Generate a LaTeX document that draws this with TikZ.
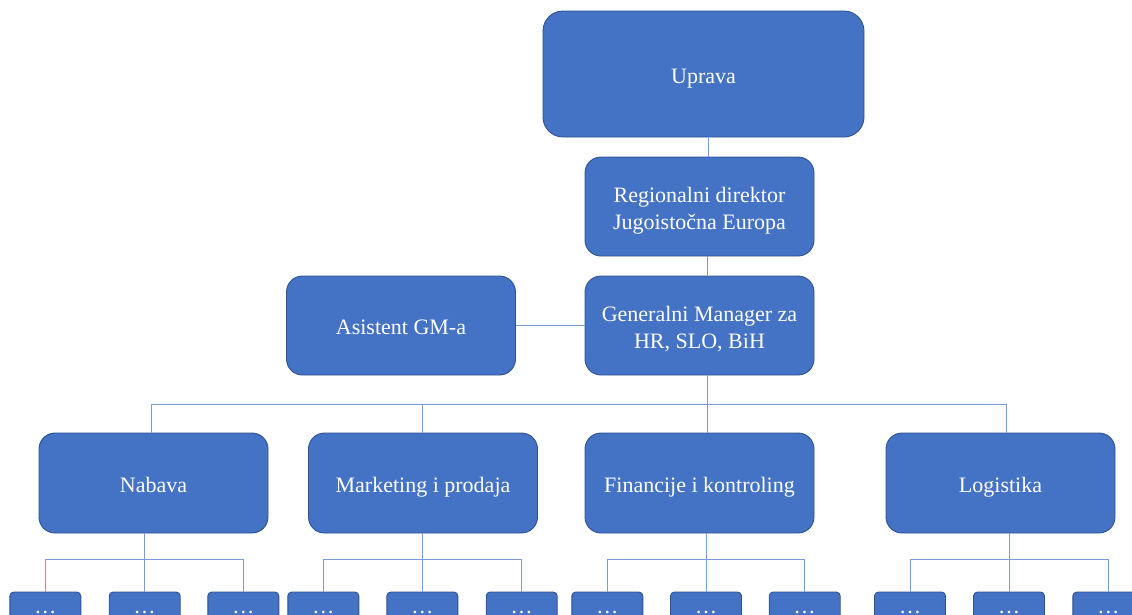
\documentclass[tikz,border=0pt]{standalone}
\usepackage{fontspec}
\setmainfont{Liberation Serif}
\definecolor{boxfill}{HTML}{4472C4}
\definecolor{boxline}{HTML}{2F528F}
\definecolor{conn}{HTML}{7A9AD8}
\begin{document}
\begin{tikzpicture}[x=1pt,y=-1pt,
  box/.style={draw=boxline, line width=0.9pt, fill=boxfill, text=white, rounded corners=16pt,
    inner sep=0pt, align=center, minimum width=229pt, minimum height=99pt,
    font=\fontsize{22}{26.6}\selectfont},
  one/.style={box, text height=24pt, text depth=6pt},
  two/.style={box, text height=50pt, text depth=4.4pt},
  leaf/.style={box, rounded corners=4pt, minimum width=71pt, minimum height=38pt,
    text height=8pt, text depth=4pt},
  link/.style={draw=conn, line width=0.9pt}]
\useasboundingbox (0,0) rectangle (1132,614);
\clip (0,0) rectangle (1132,614);

\node[one, minimum width=321pt, minimum height=126pt, rounded corners=20pt] (upr) at (703.5,74) {Uprava};
\node[two] (reg) at (699.5,206.5) {Regionalni direktor\\Jugoistočna Europa};
\node[two] (gm) at (699.5,325.5) {Generalni Manager za\\HR, SLO, BiH};
\node[one] (asi) at (401,325.5) {Asistent GM-a};

\node[one, minimum height=100pt] (nab) at (153.5,483) {Nabava};
\node[one, minimum height=100pt] (mar) at (423,483) {Marketing i prodaja};
\node[one, minimum height=100pt] (fin) at (699.5,483) {Financije i kontroling};
\node[one, minimum height=100pt] (log) at (1000.5,483) {Logistika};

% upper connectors
\draw[link] ([xshift=4.5pt]upr.south) -- ([xshift=4.5pt]upr.south |- reg.north);
\draw[link] ([xshift=7.5pt]reg.south) -- ([xshift=7.5pt]reg.south |- gm.north);
\draw[link] (asi.east) -- (gm.west);

% bus to departments
\coordinate (bus) at (707,404);
\draw[link] ([xshift=7.5pt]gm.south) -- (bus);
\draw[link] (bus -| 151,0) -- (bus -| 1006,0);
\draw[link] (bus -| 151,0) -- (nab.north -| 151,0);
\draw[link] (bus -| 422,0) -- (mar.north -| 422,0);
\draw[link] (bus) -- (fin.north -| bus);
\draw[link] (bus -| 1006,0) -- (log.north -| 1006,0);

% leaves
\foreach \p/\d/\a/\b/\c in {nab/144.7/45.3/144.7/243.3, mar/422.3/323.3/422.3/521.7,
    fin/706/607.3/706/804.7, log/1009/910/1009/1108.3} {
  \node[leaf] (\p1) at (\a,611) {…};
  \node[leaf] (\p2) at (\b,611) {…};
  \node[leaf] (\p3) at (\c,611) {…};
  \coordinate (\p bus) at (\d,559);
  \draw[link] (\p.south -| \p bus) -- (\p bus);
  \draw[link] (\p1.north |- \p bus) -- (\p3.north |- \p bus);
  \draw[link] (\p1.north |- \p bus) -- (\p1.north);
  \draw[link] (\p2.north |- \p bus) -- (\p2.north);
  \draw[link] (\p3.north |- \p bus) -- (\p3.north);
}
\end{tikzpicture}
\end{document}
